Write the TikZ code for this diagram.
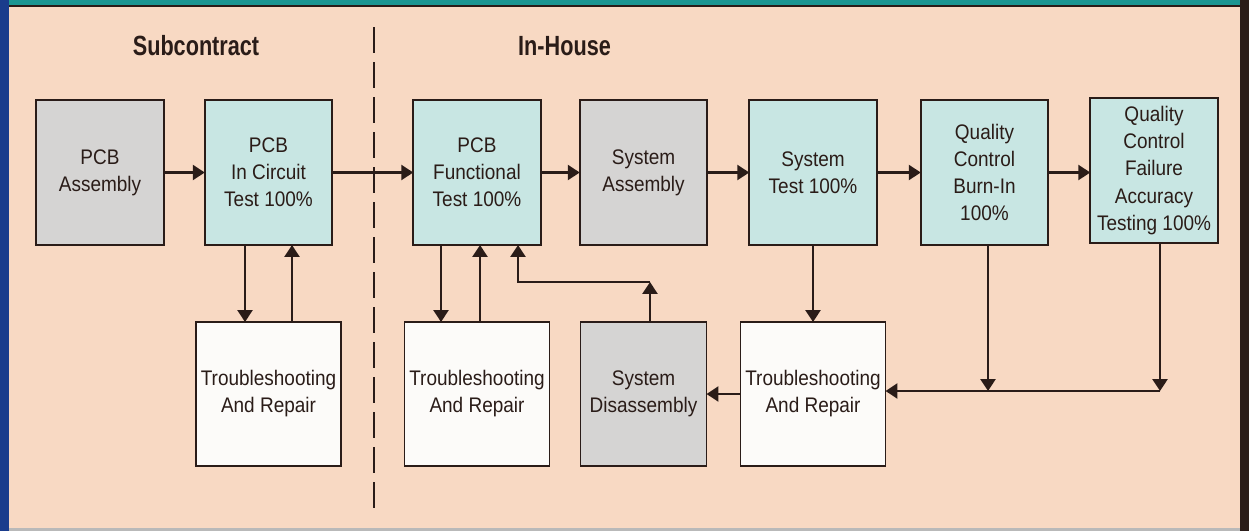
\documentclass[tikz,border=0pt]{standalone}
\usepackage{fontspec}
\setmainfont{Liberation Sans}[FakeStretch=0.9]
\newfontfamily\headfont{Liberation Sans}[FakeStretch=0.78]
\usepackage{tikz}
\usetikzlibrary{arrows.meta, positioning, calc}
\definecolor{paperpeach}{RGB}{248,217,195}
\definecolor{testteal}{RGB}{200,230,227}
\definecolor{buildgray}{RGB}{213,212,211}
\definecolor{repairwhite}{RGB}{252,251,249}
\definecolor{inkbrown}{RGB}{42,28,24}
\definecolor{bandteal}{RGB}{28,150,146}
\definecolor{bandblue}{RGB}{26,60,140}

\begin{document}
\begin{tikzpicture}[
    node distance=1.54cm and 0.82cm,
    box/.style={draw=inkbrown, line width=0.9pt, minimum width=2.55cm, minimum height=2.9cm,
                outer sep=0pt, align=center, inner sep=1pt, text=inkbrown,
                font=\fontsize{12}{15.4}\selectfont},
    build/.style={box, fill=buildgray},
    test/.style={box, fill=testteal},
    repair/.style={box, fill=repairwhite, minimum width=2.9cm, minimum height=2.88cm},
    head/.style={text=inkbrown, font=\headfont\bfseries\fontsize{15.8}{18}\selectfont},
    arr/.style={-{Triangle[length=6.8pt,width=8.5pt]}, line width=1.5pt, draw=inkbrown},
    divider/.style={line width=1.5pt, draw=inkbrown, dash pattern=on 0.52cm off 0.18cm},
]

% --- Frame ---
\fill[paperpeach] (0,0) rectangle (24.98,-10.62);
\fill[bandteal] (0,0) rectangle (24.98,-0.12);
\draw[inkbrown, line width=0.6pt] (0.18,-0.12) -- (24.8,-0.12);
\fill[bandblue] (0,0) rectangle (0.18,-10.62);
\fill[inkbrown] (24.8,0) rectangle (24.98,-10.62);
\fill[gray!55] (0.18,-10.56) rectangle (24.8,-10.62);
\useasboundingbox (0,0) rectangle (24.98,-10.62);

% --- Headings ---
\node[head] (subhd) at (3.92,-0.92) {Subcontract};
\node[head] (househd) at (11.29,-0.92) {In-House};
\coordinate (divtop) at (7.48,-0.54);
\coordinate (divbot) at (7.48,-10.2);
\draw[divider] (divtop) -- (divbot);

% --- Main line ---
\node[build] (pcbasm) at (2.0,-3.45) {PCB\\Assembly};
\node[test, right=of pcbasm] (ict) {PCB\\In Circuit\\Test 100\%};
\node[test, right=1.62cm of ict] (fct) {PCB\\Functional\\Test 100\%};
\node[build, right=0.78cm of fct] (sysasm) {System\\Assembly};
\node[test, right=0.84cm of sysasm] (systest) {System\\Test 100\%};
\node[test, right=0.88cm of systest] (qcburn) {Quality\\Control\\Burn-In\\100\%};
\node[test, right=0.84cm of qcburn, yshift=0.04cm] (qcfat) {Quality\\Control\\Failure\\Accuracy\\Testing 100\%};

% --- Repair loops ---
\node[repair, below=of ict] (tsict) {Troubleshooting\\And Repair};
\node[repair, below=of fct] (tsfct) {Troubleshooting\\And Repair};
\node[build, below=of sysasm, minimum width=2.52cm, minimum height=2.88cm] (sysdis) {System\\Disassembly};
\node[repair, below=of systest] (tssys) {Troubleshooting\\And Repair};

% --- Arrows: main flow ---
\draw[arr] (pcbasm) -- (ict);
\draw[arr] (ict) -- (fct);
\draw[arr] (fct) -- (sysasm);
\draw[arr] (sysasm) -- (systest);
\draw[arr] (systest) -- (qcburn);
\draw[arr] (qcburn) -- (qcburn -| qcfat.west);

% --- Arrows: in circuit test loop ---
\draw[arr] ($(ict.south)+(-0.47,0)$) -- ($(tsict.north)+(-0.47,0)$);
\draw[arr] ($(tsict.north)+(0.47,0)$) -- ($(ict.south)+(0.47,0)$);

% --- Arrows: functional test loop ---
\draw[arr] ($(fct.south)+(-0.72,0)$) -- ($(tsfct.north)+(-0.72,0)$);
\draw[arr] ($(tsfct.north)+(0.06,0)$) -- ($(fct.south)+(0.06,0)$);
\coordinate (disjoin) at ($(sysdis.north)+(0.13,0.8)$);
\draw[arr] ($(sysdis.north)+(0.13,0)$) -- (disjoin);
\draw[arr] (disjoin) -| ($(fct.south)+(0.82,0)$);

% --- Arrows: system test and QC loop ---
\draw[arr] (systest) -- (tssys);
\coordinate (bijoin) at ($(qcburn.south |- tssys.east)+(0.07,0.06)$);
\coordinate (fbjoin) at ($(qcfat.south |- tssys.east)+(0.12,0.06)$);
\draw[arr] ($(qcburn.south)+(0.07,0)$) -- (bijoin);
\draw[arr] ($(qcfat.south)+(0.12,0)$) -- (fbjoin);
\draw[arr] (fbjoin) -- ($(tssys.east)+(0,0.06)$);
\draw[arr] (tssys) -- (sysdis);

\end{tikzpicture}
\end{document}
